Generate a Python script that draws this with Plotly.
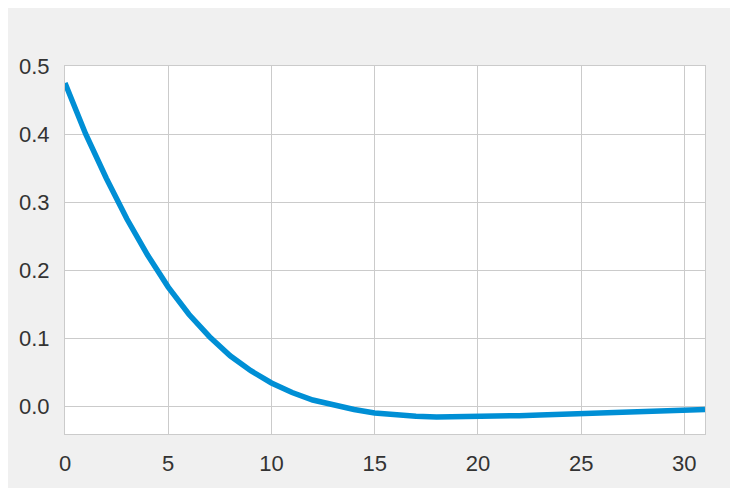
import plotly.graph_objects as go

x = list(range(32))
y = [0.475, 0.40, 0.335, 0.275, 0.222, 0.175, 0.135, 0.102, 0.074, 0.052, 0.034,
     0.020, 0.009, 0.001, -0.005, -0.010, -0.013, -0.015, -0.016, -0.016, -0.016,
     -0.015, -0.014, -0.013, -0.012, -0.011, -0.010, -0.009, -0.008, -0.007, -0.006, -0.005]

fig = go.Figure(go.Scatter(x=x, y=y, mode="lines", line=dict(color="#008fd5", width=5.5)))
fig.update_layout(
    width=738, height=493, showlegend=False,
    paper_bgcolor="white", plot_bgcolor="white",
    margin=dict(l=57, r=41, t=58, b=67),
    font=dict(family="Liberation Sans, Arial", size=22, color="#333333"),
    shapes=[dict(type="rect", xref="paper", yref="paper", x0=-0.0922, x1=1.0406,
                 y0=-0.1467, y1=1.17, fillcolor="#f0f0f0", line=dict(width=0), layer="below"),
            dict(type="rect", xref="paper", yref="paper", x0=0, x1=1, y0=0, y1=1,
                 fillcolor="white", line=dict(width=0), layer="below")],
)
fig.update_xaxes(range=[0, 31], tickvals=[0, 5, 10, 15, 20, 25, 30], gridcolor="#cbcbcb",
                 showline=True, linecolor="#cbcbcb", mirror=True, zeroline=False, ticks="",
                 ticklabelstandoff=10)
fig.update_yaxes(range=[-0.041, 0.5], tickvals=[0, 0.1, 0.2, 0.3, 0.4, 0.5], tickformat=".1f",
                 gridcolor="#cbcbcb", showline=True, linecolor="#cbcbcb", mirror=True,
                 zeroline=False, ticks="", ticklabelstandoff=10)
fig.write_html("out.html")
